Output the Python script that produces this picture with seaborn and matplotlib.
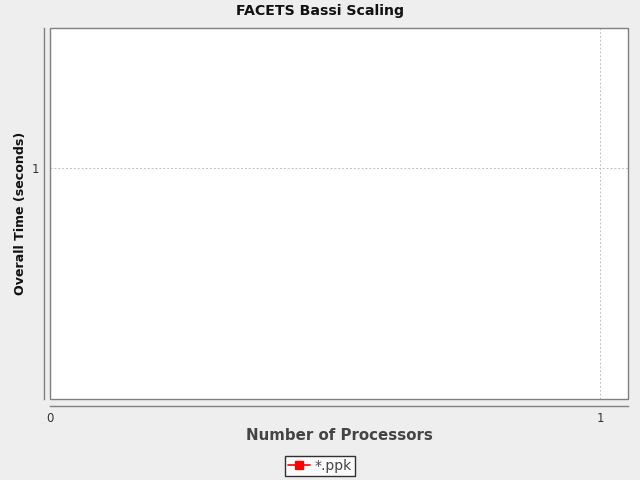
import matplotlib
matplotlib.use("Agg")
import matplotlib.pyplot as plt
import seaborn as sns
from matplotlib.patches import Rectangle

# the series has no points in the reference, only a legend entry
procs = []
times = []
series_name = "*.ppk"
x_ticks = [0, 1]
y_ticks = [1]

sns.set_theme(style="white")
plt.rcParams['font.family'] = ['DejaVu Sans']

fig = plt.figure(figsize=(6.4, 4.8), dpi=100, facecolor="#eeeeee")
ax = fig.add_axes([50 / 640, 1 - 399 / 480, 578 / 640, 371 / 480])
ax.set_facecolor("white")

ax.plot(procs, times, color="red", marker="s", markersize=6, linewidth=1.2, label=series_name)

ax.set_xlim(0, 578 / 550)
ax.set_ylim(0, 371 / 231)
ax.set_xticks(x_ticks)
ax.set_yticks(y_ticks)
ax.grid(True, color="#c0c0c0", linestyle=(0, (2, 2)), linewidth=0.7)

for side in ["top", "right"]:
    ax.spines[side].set_visible(False)
ax.spines["left"].set_position(("outward", 4))
ax.spines["bottom"].set_position(("outward", 5))
for side in ["left", "bottom"]:
    ax.spines[side].set_color("#808080")
    ax.spines[side].set_linewidth(1.0)
ax.add_patch(Rectangle((0, 0), 1, 1, transform=ax.transAxes, fill=False,
                       edgecolor="#808080", linewidth=1.0, clip_on=False, zorder=5))

ax.tick_params(axis="both", direction="out", length=3, width=0.8, color="#808080",
               labelsize=8.5, labelcolor="#333333", pad=1)

# title and labels placed in figure pixels, like the reference
fig.text(320 / 640, 1 - 11 / 480, "FACETS Bassi Scaling", fontsize=10.2,
         fontweight="bold", color="#111111", ha="center", va="center")
fig.text(339 / 640, 1 - 435 / 480, "Number of Processors", fontsize=10.8,
         fontweight="bold", color="#444444", ha="center", va="center")
fig.text(21 / 640, 1 - 213.5 / 480, "Overall Time (seconds)", fontsize=9.1,
         fontweight="bold", color="#111111", rotation=90, ha="center", va="center")

leg = fig.legend(loc="center", bbox_to_anchor=(320 / 640, 1 - 466 / 480), frameon=True,
                 fancybox=False, fontsize=10, handlelength=1.6, handletextpad=0.3,
                 borderpad=0.25, borderaxespad=0)
leg.get_frame().set_edgecolor("black")
leg.get_frame().set_linewidth(1.0)
for t in leg.get_texts():
    t.set_color("#444444")

fig.savefig("out.png", dpi=100, facecolor=fig.get_facecolor())
